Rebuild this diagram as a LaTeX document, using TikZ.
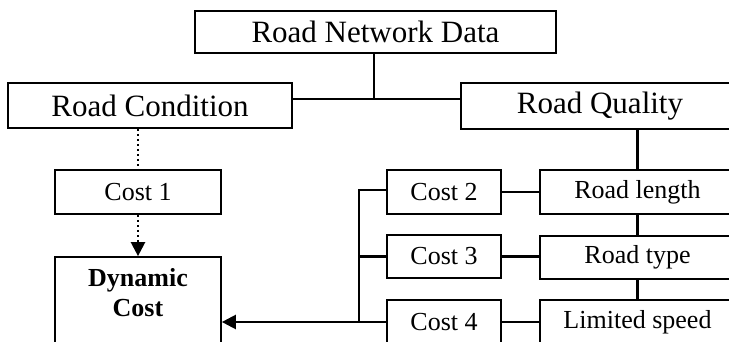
\documentclass[tikz,border=0pt]{standalone}
\usepackage{fontspec}
\setmainfont{Liberation Serif}
\usetikzlibrary{arrows.meta}
\tikzset{
  bigbox/.style={draw, line width=1.7pt, inner sep=0pt, font=\fontsize{31}{34}\selectfont},
  smallbox/.style={draw, line width=1.7pt, inner sep=0pt, font=\fontsize{26}{30}\selectfont},
  link/.style={line width=2.3pt},
  dotlink/.style={line width=2.3pt, dash pattern=on 2.5pt off 2.5pt},
  tip/.style={-{Triangle[length=14pt,width=14pt]}}
}
\begin{document}
\begin{tikzpicture}[x=1pt,y=-1pt]
\useasboundingbox (0,0) rectangle (729,342);
\clip (0,0) rectangle (729,342);
\fill[white] (0,0) rectangle (729,342);

% top level
\node[bigbox, minimum width=361pt, minimum height=42pt] (rnd) at (375.5,32) {Road Network Data};
\node[bigbox, minimum width=284pt, minimum height=45pt] (rc) at (150,105.5) {Road Condition};
\node[bigbox, minimum width=278pt, minimum height=46pt] (rq) at (600,106) {Road Quality};

% left branch
\node[smallbox, minimum width=166pt, minimum height=44pt] (c1) at (138,192) {Cost 1};
\node[smallbox, minimum width=166pt, minimum height=113pt] (dc) at (138,313.5) {};
\node[font=\fontsize{26}{30}\selectfont\bfseries, align=center, inner sep=0pt] (dct) at (138,293) {Dynamic\\Cost};

% cost boxes
\node[smallbox, minimum width=114pt, minimum height=44pt] (c2) at (444,192) {Cost 2};
\node[smallbox, minimum width=114pt, minimum height=43pt] (c3) at (444,256.5) {Cost 3};
\node[smallbox, minimum width=114pt, minimum height=44pt] (c4) at (444,322) {Cost 4};

% road attributes
\node[smallbox, minimum width=195pt, minimum height=44pt] (rl) at (637.5,192) {Road length};
\node[smallbox, minimum width=195pt, minimum height=43pt] (rt) at (637.5,257.5) {Road type};
\node[smallbox, minimum width=195pt, minimum height=44pt] (ls) at (637.5,322) {Limited speed};

% junction points
\coordinate (j) at (374,99);
\coordinate (bus) at (359,190);

% tree connectors
\draw[link] (rnd.south -| j) -- (j);
\draw[link] (rc.east |- j) -- (rq.west |- j);
\draw[dotlink] (rc.south -| c1) -- (c1.north);
\draw[dotlink, tip] (c1.south) -- (dc.north);

\draw[link] (rl.north |- rq.south) -- (rl.north);
\draw[link] (rl.south) -- (rt.north);
\draw[link] (rt.south) -- (ls.north);

\draw[link] (c2.east) -- (rl.west);
\draw[link] (c3.east) -- (c3.east -| rt.west);
\draw[link] (c4.east) -- (ls.west);

% collecting bus
\draw[link] (c2.west |- bus) -- (bus) -- (bus |- c4.west);
\draw[link] (c3.west) -- (c3.west -| bus);
\draw[link, tip] (c4.west) -- (dc.east |- c4.west);
\end{tikzpicture}
\end{document}
